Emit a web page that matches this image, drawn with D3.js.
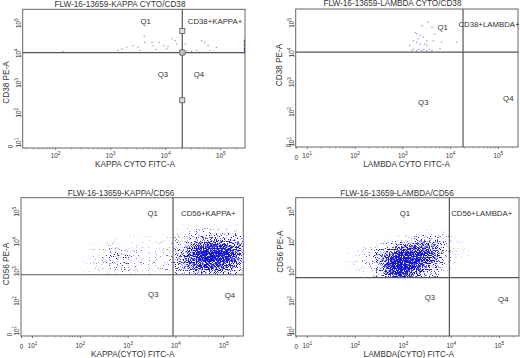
<!DOCTYPE html>
<html lang="en">
<head>
<meta charset="utf-8">
<title>FLW-16-13659 kappa / lambda</title>
<script src="https://cdn.jsdelivr.net/npm/d3@7"></script>
<style>
  body { margin: 0; background: #fff; }
  text { font-family: "Liberation Sans", Arial, sans-serif; fill: #333; }
</style>
</head>
<body>
<div id="chart-area"></div>
<script>
  // all values are in decades (10^v)
  var tickDecades = [1, 2, 3, 4, 5];

  // top-left: sparse events above the CD38 gate
  var p1Points = [[2.14,4.04],[3.14,4.07],[3.21,4.12],[3.30,4.18],[3.41,4.23],[3.51,4.18],[3.54,4.07],
    [3.62,4.54],[3.63,4.34],[3.76,4.34],[3.78,4.23],[3.83,4.10],[3.89,4.34],[3.97,4.23],[4.03,4.12],
    [4.05,4.20],[4.12,4.46],[4.18,4.40],[4.21,4.29],[4.27,4.07],[4.36,4.29],[4.39,4.07],[4.48,4.04],
    [4.57,4.07],[4.62,4.01],[4.66,4.40],[4.72,4.34],[4.78,4.23],[4.81,4.07],[4.88,4.01],[4.93,4.17]];
  var p1EdgePoints = [[5.44,4.02],[5.44,4.12],[5.44,4.25],[5.44,4.38]];

  // top-right
  var p2Points = [[3.41,4.89],[3.54,5.00],[3.62,4.83],[3.27,4.66],[3.30,4.61],[3.37,4.55],[3.44,4.50],
    [3.51,4.38],[3.23,4.38],[3.30,4.33],[3.37,4.27],[3.47,4.27],[3.51,4.22],[3.20,4.05],[3.30,4.05],
    [3.41,4.05],[3.51,4.03],[3.62,4.05],[3.79,4.11],[3.82,4.33],[4.14,4.33],[3.68,4.61],[3.65,4.38],
    [3.24,4.09],[3.35,4.09],[3.45,4.09],[3.56,4.09],[3.33,4.45],[3.16,4.22]];

  // bottom-left: event density (0-10) on 0.2-decade cells
  var p3XCells = [2.1,2.3,2.5,2.7,2.9,3.1,3.3,3.5,3.7,3.9,4.1,4.3,4.5,4.7,4.9,5.1,5.3];
  var p3YCells = [4.5,4.3,4.1,3.9,3.7,3.5,3.3,3.1,2.9];
  var p3Density = [
    [0,0,0,0,0,0,0,0,0,0,0.2,0.3,0.5,0.6,0.6,0.5,0.4],
    [0,0,0,0,0,0,0,0,0.2,0.4,1,1.5,2,2,2,1.8,1.5],
    [0,0,0,0.3,0.5,0.5,0.5,0.4,0.5,0.8,2,3,4,4.5,4.5,4,3.5],
    [0,0.3,1,1.2,1,0.8,0.7,0.6,0.7,1,3,4.5,6,7,7,6.5,6],
    [0.2,0.5,1.5,2.5,2,1.5,1,1,1,1.5,4,6,8,9,9.5,9,7],
    [0.3,1,2,3,3,2,1.5,1,1.2,1.6,5,7,9,10,10,9,7],
    [0.5,1,1.5,2,2.5,2,1.5,1.3,1.3,1.6,5,7,8,9,9,8,6],
    [0.5,1,1.5,2,2,2,1.5,1.5,1.5,1.6,4,6,7,7.5,7.5,6.5,5],
    [0.5,1,1,1.5,1.5,1.5,1,1,1.2,1.5,3,4,5,5,5,4,3]
  ];

  // bottom-right
  var p4XCells = [1.9,2.1,2.3,2.5,2.7,2.9,3.1,3.3,3.5,3.7,3.9,4.1,4.3];
  var p4YCells = [4.3,4.1,3.9,3.7,3.5,3.3,3.1,2.9,2.7];
  var p4Density = [
    [0,0,0,0,0,0.2,0.3,0.4,0.7,0.8,0.5,0,0],
    [0,0,0,0,0.3,0.6,1.5,2.5,3,3,2,0.4,0],
    [0,0,0.5,1,2,4,5,6,6,5,3,0.7,0.3],
    [0.3,0.7,1.5,3,5,7,8,8,7,6,3,0.8,0.5],
    [0.5,1,2,4,7,9,10,9,8,6,2.5,0.5,0.3],
    [0.5,1,2,5,8,10,10,9,7,5,2,0.5,0],
    [0.3,0.7,1.5,4,8,10,9,8,6,4,1.5,0.3,0],
    [0,0.5,1,3,7,9,8,6,4,3,1,0,0],
    [0,0,0.5,2,6,8,6,4,2,1,0.5,0,0]
  ];

  var p1Quads = ["Q1", "CD38+KAPPA+", "Q3", "Q4"];
  var p2Quads = ["Q1", "CD38+LAMBDA+", "Q3", "Q4"];
  var p3Quads = ["Q1", "CD56+KAPPA+", "Q3", "Q4"];
  var p4Quads = ["Q1", "CD56+LAMBDA+", "Q3", "Q4"];

  var panels = [
    { title: "FLW-16-13659-KAPPA CYTO/CD38", titlePos: [120, 7.3],
      xTitle: "KAPPA CYTO FITC-A", xTitlePos: [135, 166.5],
      yTitle: "CD38 PE-A", yTitlePos: [8.5, 82.5],
      box: [22.7, 9.3, 245, 148], xDomain: [1.41, 5.45], gate: [4.31, 4.0],
      xTicks: [2, 3, 4, 5], xLabelDy: 9.5, zeroDx: 10,
      quads: p1Quads, quadPos: [[145.7,20.7],[215,20.7],[163,74],[199,74]],
      points: p1Points, edge: p1EdgePoints, handles: true },
    { title: "FLW-16-13659-LAMBDA CYTO/CD38", titlePos: [392.5, 6.4],
      xTitle: "LAMBDA CYTO FITC-A", xTitlePos: [406.7, 167],
      yTitle: "CD38 PE-A", yTitlePos: [282, 65],
      box: [295.7, 9, 518, 147], xDomain: [0.77, 5.42], gate: [4.27, 4.0],
      xTicks: [0.77, 1, 2, 3, 4, 5], xLabelDy: 11, zeroDx: 5,
      quads: p2Quads, quadPos: [[442.7,27.3],[489,24],[423.3,101.7],[508.3,98.3]],
      points: p2Points },
    { title: "FLW-16-13659-KAPPA/CD56", titlePos: [121, 196],
      xTitle: "KAPPA(CYTO) FITC-A", xTitlePos: [132.7, 356.5],
      yTitle: "CD56 PE-A", yTitlePos: [8.5, 264],
      box: [21, 197.7, 243.3, 336], xDomain: [0.77, 5.42], gate: [3.95, 2.86],
      xTicks: [0.77, 1, 2, 3, 4, 5], xLabelDy: 11.5, zeroDx: 9,
      quads: p3Quads, quadPos: [[152.7,213.3],[208.3,213.3],[153.3,294.3],[230,294.7]],
      cells: { xs: p3XCells, ys: p3YCells, v: p3Density } },
    { title: "FLW-16-13659-LAMBDA/CD56", titlePos: [397, 196],
      xTitle: "LAMBDA(CYTO) FITC-A", xTitlePos: [408.8, 356.5],
      yTitle: "CD56 PE-A", yTitlePos: [282.7, 251.7],
      box: [295.7, 197.7, 519, 336], xDomain: [0.77, 5.42], gate: [3.97, 2.76],
      xTicks: [0.77, 1, 2, 3, 4, 5], xLabelDy: 11.5, zeroDx: 4,
      quads: p4Quads, quadPos: [[405,213.3],[481.7,213.3],[430,296.7],[503.3,299.3]],
      cells: { xs: p4XCells, ys: p4YCells, v: p4Density } }
  ];

  var yDomain = [0.8, 5.45];
  var half = 0.1; // half a cell, in decades

  var svg = d3.select("#chart-area").append("svg")
              .attr("width", 520).attr("height", 358);

  // speckle filter: blurred density thresholded against fine noise -> dot-like texture
  var defs = svg.append("defs");
  var f = defs.append("filter").attr("id", "speckle")
              .attr("x", "-10%").attr("y", "-10%").attr("width", "120%").attr("height", "120%");
  f.append("feGaussianBlur").attr("in", "SourceAlpha").attr("stdDeviation", 2.2).attr("result", "b");
  f.append("feTurbulence").attr("type", "fractalNoise").attr("baseFrequency", 0.85)
   .attr("numOctaves", 1).attr("seed", 7).attr("result", "t");
  f.append("feColorMatrix").attr("in", "t").attr("type", "matrix")
   .attr("values", "0 0 0 0 0  0 0 0 0 0  0 0 0 0 0  2.5 0 0 0 -0.75").attr("result", "n");
  f.append("feComposite").attr("in", "b").attr("in2", "n").attr("operator", "arithmetic")
   .attr("k1", 0).attr("k2", 4).attr("k3", -4).attr("k4", 0).attr("result", "m");
  f.append("feFlood").attr("flood-color", "#1414d8").attr("result", "fl");
  f.append("feComposite").attr("in", "fl").attr("in2", "m").attr("operator", "in");

  function expLabel(sel, d) {
    sel.text(null);
    if (d < 1) { sel.text("0"); return; }
    sel.append("tspan").text("10");
    sel.append("tspan").attr("dy", -3).attr("font-size", 4.8).text(d);
  }

  panels.forEach(function(p, i) {
    var L = p.box[0], T = p.box[1], R = p.box[2], B = p.box[3];
    var x = d3.scaleLinear().domain(p.xDomain).range([L, R]);
    var y = d3.scaleLinear().domain(yDomain).range([B, T]);
    var g = svg.append("g");

    // events, kept above the horizontal gate
    var clipId = "clip" + i;
    defs.append("clipPath").attr("id", clipId).append("rect")
        .attr("x", L).attr("y", T).attr("width", R - L).attr("height", y(p.gate[1]) - T);

    if (p.cells) {
      var cellData = [];
      p.cells.v.forEach(function(row, r) {
        row.forEach(function(v, c) {
          if (v > 0) cellData.push({ cx: p.cells.xs[c], cy: p.cells.ys[r], v: v });
        });
      });
      g.append("g").attr("clip-path", "url(#" + clipId + ")")
       .append("g").attr("filter", "url(#speckle)")
       .selectAll("rect").data(cellData).enter().append("rect")
       .attr("x", function(d) { return x(d.cx - half); })
       .attr("width", function(d) { return x(d.cx + half) - x(d.cx - half); })
       .attr("y", function(d) { return y(d.cy + half); })
       .attr("height", function(d) { return y(d.cy - half) - y(d.cy + half); })
       .attr("fill", "#000")
       .attr("fill-opacity", function(d) { return Math.min(1, d.v / 10); });
    }
    if (p.points) {
      g.selectAll("rect.ev").data(p.points).enter().append("rect").attr("class", "ev")
       .attr("x", function(d) { return x(d[0]) - 0.65; })
       .attr("y", function(d) { return y(d[1]) - 0.65; })
       .attr("width", 1.3).attr("height", 1.3)
       .attr("fill", "#9c9ccc");
    }
    if (p.edge) {
      g.selectAll("rect.edge").data(p.edge).enter().append("rect").attr("class", "edge")
       .attr("x", function(d) { return x(d[0]) - 0.6; })
       .attr("y", function(d) { return y(d[1]) - 1.5; })
       .attr("width", 1.2).attr("height", 3)
       .attr("fill", "#2a2aa0");
    }

    // x axis
    var xAxis = g.append("g").attr("transform", "translate(0," + B + ")")
      .call(d3.axisBottom(x).tickValues(p.xTicks).tickSize(2).tickPadding(0));
    xAxis.select(".domain").remove();
    xAxis.selectAll(".tick line").attr("stroke", "#777");
    xAxis.selectAll(".tick text")
      .attr("font-size", 6.3).attr("fill", "#333").attr("y", p.xLabelDy).attr("dy", 0)
      .each(function(d) {
        var t = d3.select(this);
        expLabel(t, d);
        if (d < 1) t.attr("y", p.xLabelDy + 1.5);
      });

    // minor ticks
    var minors = [];
    for (var k = 1; k < 6; k++) {
      for (var m = 2; m < 10; m++) {
        var v = k + Math.log10(m);
        if (v > p.xDomain[0] && v < p.xDomain[1]) minors.push(v);
      }
    }
    g.selectAll("line.minor").data(minors).enter().append("line").attr("class", "minor")
     .attr("x1", function(d) { return x(d); }).attr("x2", function(d) { return x(d); })
     .attr("y1", B).attr("y2", B + 1.5)
     .attr("stroke", "#888").attr("stroke-width", 0.7);

    // y axis, labels rotated
    var yAxis = g.append("g").attr("transform", "translate(" + L + ",0)")
      .call(d3.axisLeft(y).tickValues([0.8].concat(tickDecades)).tickSize(0).tickFormat(""));
    yAxis.select(".domain").remove();
    yAxis.selectAll(".tick").append("text")
      .attr("transform", function(d) { return "translate(" + (d < 1 ? -p.zeroDx : -2.2) + "," + (d < 1 ? -2 : 0) + ") rotate(-90)"; })
      .attr("text-anchor", "middle").attr("font-size", 6.3).attr("fill", "#333")
      .each(function(d) { expLabel(d3.select(this), d); });

    // frame and quadrant gate
    g.append("rect").attr("x", L).attr("y", T).attr("width", R - L).attr("height", B - T)
     .attr("fill", "none").attr("stroke", "#666").attr("stroke-width", 1);
    var gx = x(p.gate[0]), gy = y(p.gate[1]);
    g.append("line").attr("x1", gx).attr("x2", gx).attr("y1", T).attr("y2", B)
     .attr("stroke", "#555").attr("stroke-width", 1.2);
    g.append("line").attr("x1", L).attr("x2", R).attr("y1", gy).attr("y2", gy)
     .attr("stroke", "#555").attr("stroke-width", 1.2);

    if (p.handles) {
      [(T + gy) / 2, (gy + B) / 2].forEach(function(hy) {
        g.append("rect").attr("x", gx - 2.5).attr("y", hy - 2.5).attr("width", 5).attr("height", 5)
         .attr("fill", "#ddd").attr("stroke", "#555").attr("stroke-width", 0.8);
      });
      g.append("circle").attr("cx", gx).attr("cy", gy).attr("r", 3.2)
       .attr("fill", "#bbb").attr("stroke", "#555").attr("stroke-width", 0.8);
    }

    // text
    g.selectAll("text.quad").data(p.quads).enter().append("text").attr("class", "quad")
     .attr("x", function(d, j) { return p.quadPos[j][0]; })
     .attr("y", function(d, j) { return p.quadPos[j][1] + 3; })
     .attr("text-anchor", "middle").attr("font-size", 7.8)
     .text(function(d) { return d; });

    g.append("text").attr("x", p.titlePos[0]).attr("y", p.titlePos[1])
     .attr("text-anchor", "middle").attr("font-size", 8.2).text(p.title);
    g.append("text").attr("x", p.xTitlePos[0]).attr("y", p.xTitlePos[1])
     .attr("text-anchor", "middle").attr("font-size", 8.2).text(p.xTitle);
    g.append("text")
     .attr("transform", "translate(" + p.yTitlePos[0] + "," + p.yTitlePos[1] + ") rotate(-90)")
     .attr("text-anchor", "middle").attr("font-size", 8.2).text(p.yTitle);
  });
</script>
</body>
</html>
